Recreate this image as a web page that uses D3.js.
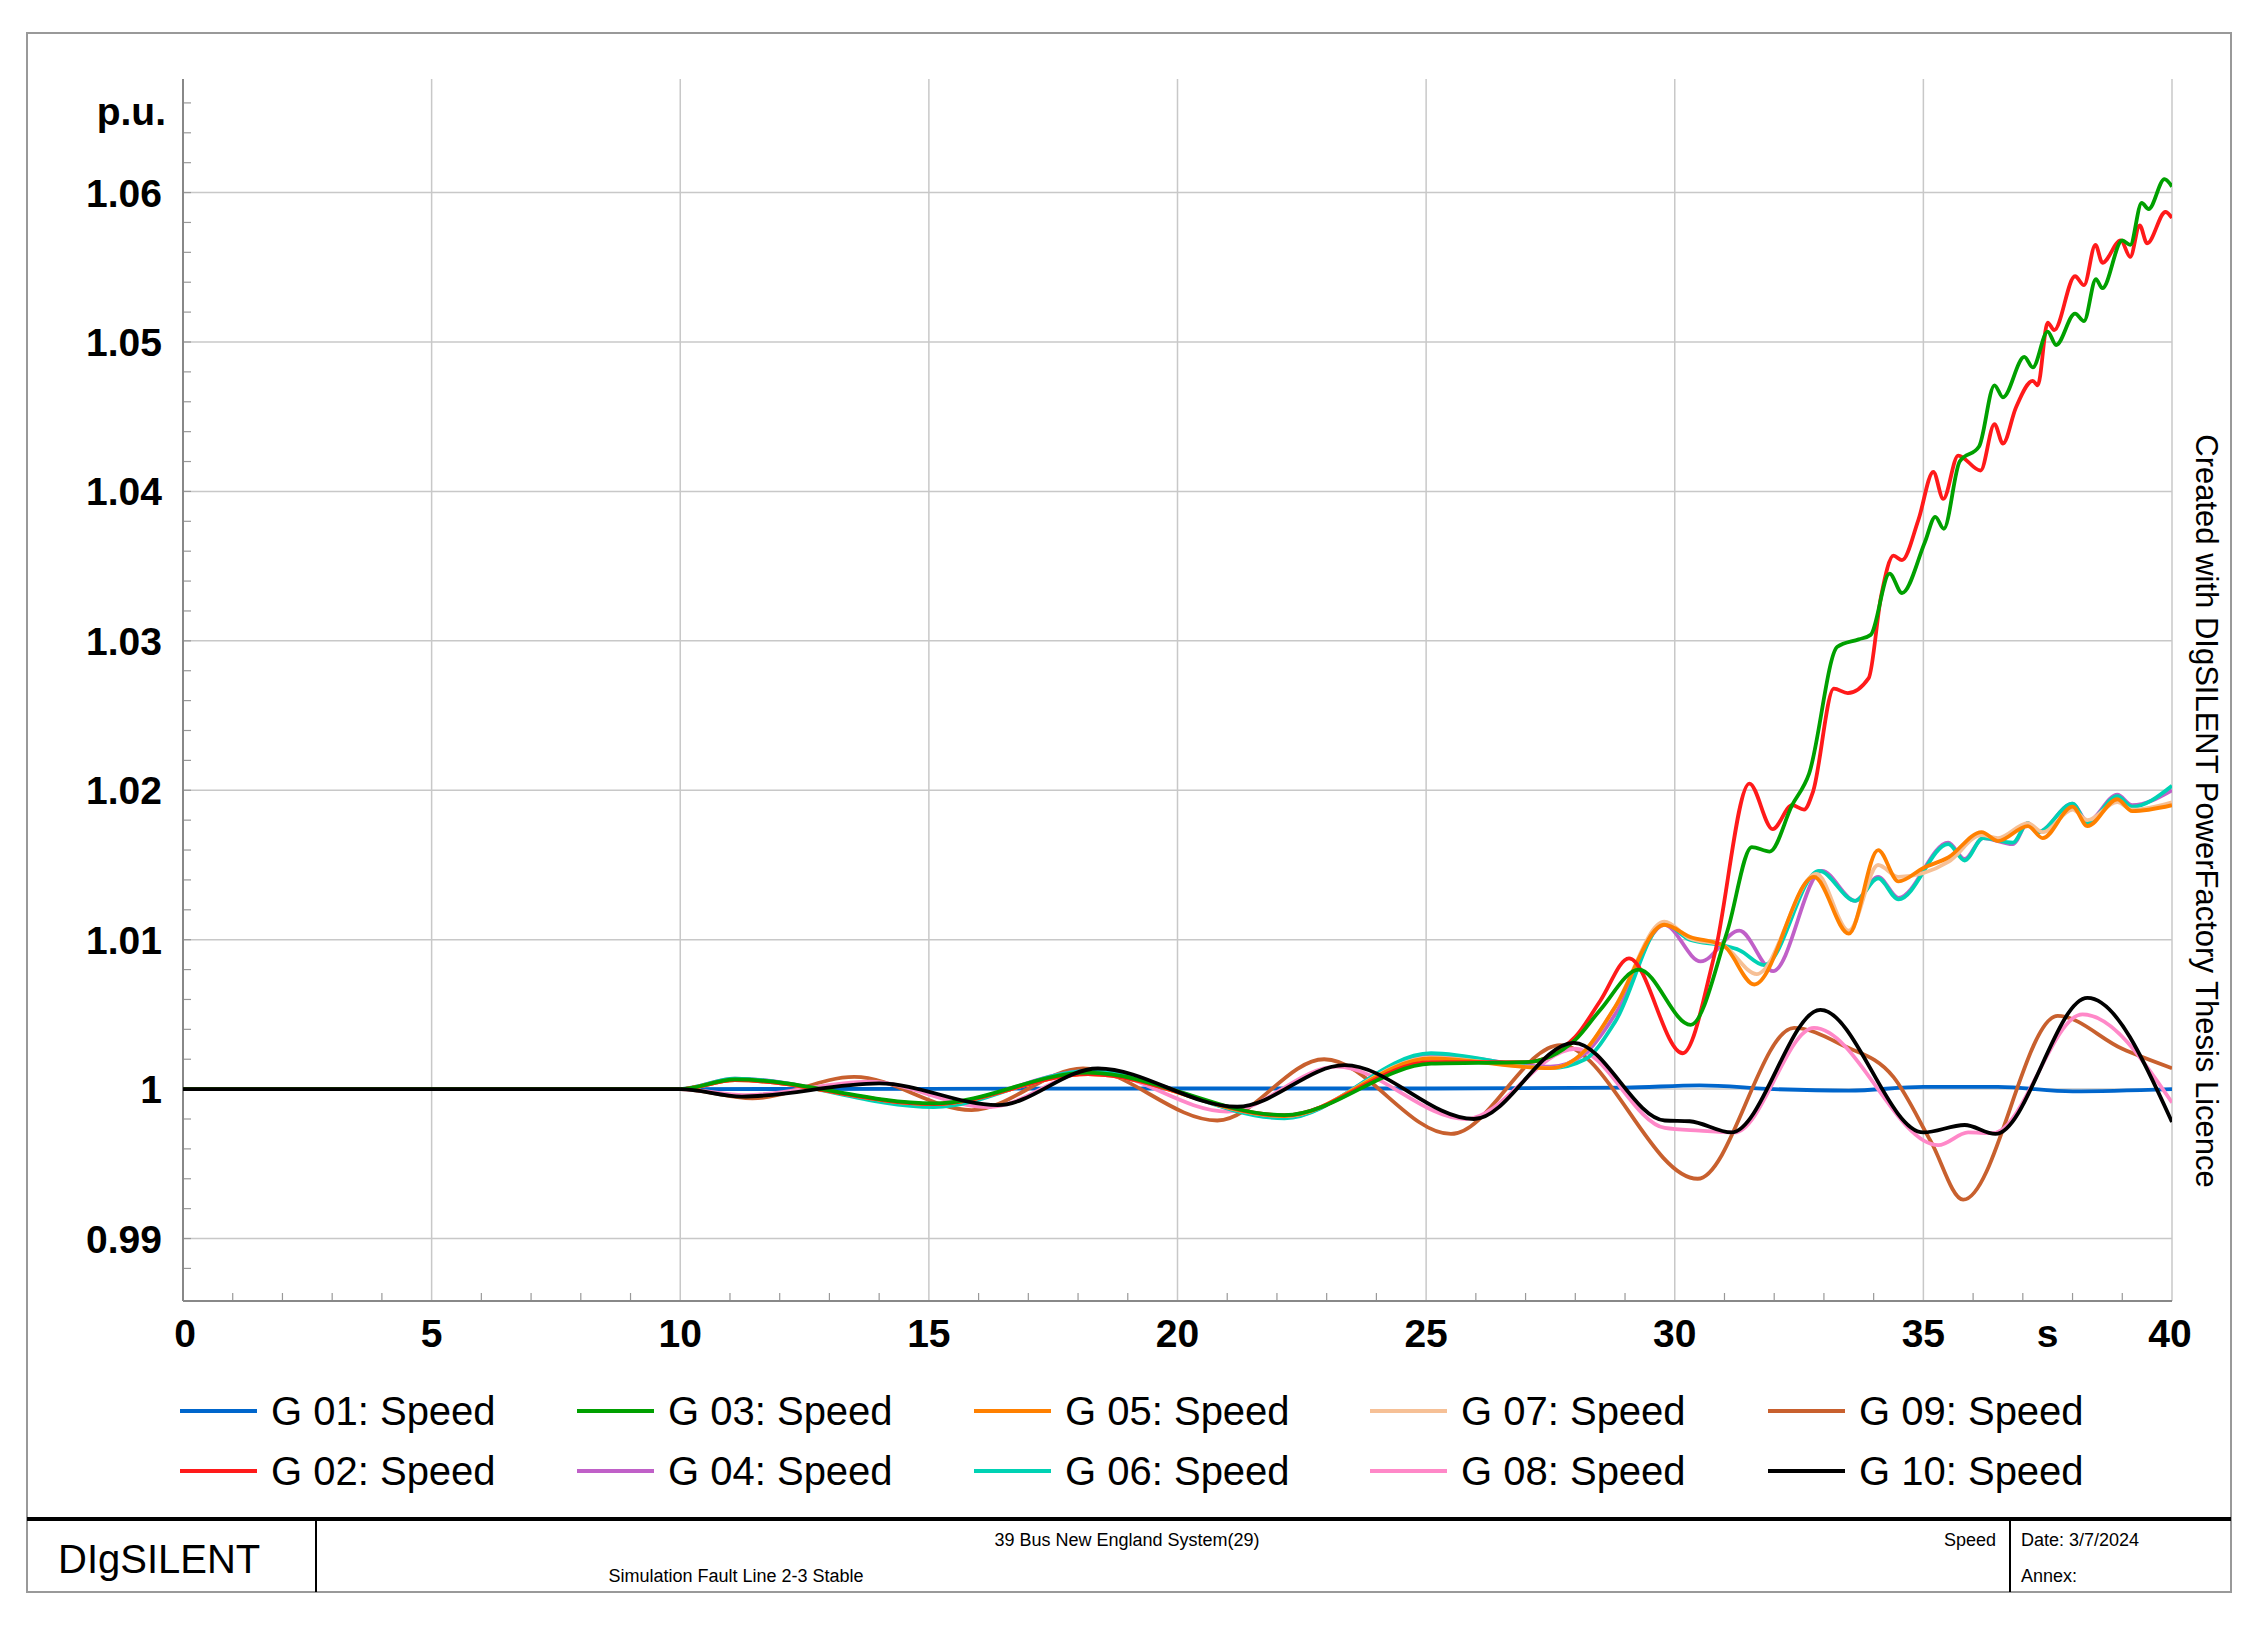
<!DOCTYPE html>
<html>
<head>
<meta charset="utf-8">
<script src="https://cdn.jsdelivr.net/npm/d3@7"></script>
<style>
  body { margin: 0; background: #fff; }
  text { font-family: "Liberation Sans", Arial, sans-serif; }
</style>
</head>
<body>
<svg id="chart" width="2260" height="1630"></svg>
<script>
// values
var xTicks = [0, 5, 10, 15, 20, 25, 30, 35, 40];
var yTicks = [0.99, 1.00, 1.01, 1.02, 1.03, 1.04, 1.05, 1.06];
var yTickLabels = ["0.99", "1", "1.01", "1.02", "1.03", "1.04", "1.05", "1.06"];

var g01_t = [0, 10, 20, 25, 29, 30.5, 32, 33.5, 35, 36.5, 38, 40];
var g01_v = [1.0000, 1.0000, 1.00004, 1.00004, 1.0001, 1.00025, 1.0000, 0.9999, 1.00015, 1.00015, 0.99985, 1.0000];

var g02_t = [0, 10, 11.1, 15.1, 18.2, 22.15, 25.1, 27, 28, 28.5, 29.08, 30.16, 30.8, 31.5, 31.97, 32.36, 32.6, 32.78, 33.2, 33.48, 33.9, 34.15, 34.4, 34.57, 34.9, 35.2, 35.4, 35.7, 36.15, 36.43, 36.6, 36.86, 37.2, 37.3, 37.5, 37.63, 38.05, 38.23, 38.46, 38.6, 38.97, 39.16, 39.35, 39.5, 39.87, 40];
var g02_v = [1.0000, 1.0000, 1.0006, 0.9990, 1.0010, 0.99825, 1.0018, 1.0018, 1.0035, 1.0059, 1.00875, 1.0024, 1.0090, 1.02045, 1.0174, 1.0190, 1.0187, 1.0199, 1.0268, 1.0265, 1.0275, 1.0330, 1.0357, 1.0354, 1.0381, 1.0413, 1.0395, 1.0424, 1.0414, 1.0445, 1.0432, 1.0456, 1.0474, 1.0471, 1.0513, 1.0508, 1.0544, 1.0538, 1.0565, 1.0553, 1.0568, 1.0557, 1.0578, 1.0566, 1.0587, 1.0583];

var g03_t = [0, 10, 11.1, 15.1, 18.2, 22.15, 25.1, 27, 28, 28.5, 29.28, 30.32, 31.06, 31.55, 31.91, 32.36, 32.7, 33.27, 33.7, 33.94, 34.32, 34.57, 35.03, 35.24, 35.41, 35.73, 36.12, 36.43, 36.6, 37.03, 37.2, 37.5, 37.67, 38.05, 38.23, 38.47, 38.6, 39.0, 39.16, 39.39, 39.53, 39.85, 40];
var g03_v = [1.0000, 1.0000, 1.00065, 0.99904, 1.0011, 0.99826, 1.0017, 1.0018, 1.0033, 1.0053, 1.0080, 1.0043, 1.0106, 1.0162, 1.0159, 1.0190, 1.0211, 1.0296, 1.0301, 1.0304, 1.0345, 1.0332, 1.0366, 1.0383, 1.0375, 1.0420, 1.0430, 1.0471, 1.0463, 1.0490, 1.0483, 1.0507, 1.0498, 1.0519, 1.0514, 1.0542, 1.0536, 1.0568, 1.0565, 1.0593, 1.0589, 1.0609, 1.0604];

var g04_t = [0, 10, 11.1, 15.1, 18.2, 22.15, 25.1, 27.5, 28.2, 28.8, 29.79, 30.52, 31.3, 31.98, 32.96, 33.63, 34.09, 34.5, 35.5, 35.83, 36.2, 36.8, 37.1, 37.3, 38.0, 38.3, 38.9, 39.2, 40];
var g04_v = [1.0000, 1.0000, 1.0007, 0.9989, 1.0012, 0.9981, 1.0023, 1.0015, 1.0024, 1.0050, 1.0110, 1.00855, 1.0106, 1.0079, 1.0146, 1.0126, 1.0142, 1.0128, 1.0165, 1.0154, 1.0168, 1.0164, 1.0178, 1.0172, 1.0191, 1.0179, 1.0197, 1.0190, 1.0200];

var g05_t = [0, 10, 11.1, 15.1, 18.2, 22.15, 25.1, 27.5, 28.2, 28.8, 29.79, 30.3, 30.98, 31.6, 32.8, 33.5, 34.09, 34.5, 35.0, 35.5, 36.17, 36.5, 37.1, 37.4, 38.0, 38.3, 38.9, 39.2, 40];
var g05_v = [1.0000, 1.0000, 1.0006, 0.9990, 1.0010, 0.9982, 1.00205, 1.0014, 1.0026, 1.0055, 1.0110, 1.0102, 1.0096, 1.0070, 1.0142, 1.0104, 1.0160, 1.0139, 1.0148, 1.0155, 1.0172, 1.0166, 1.0176, 1.0168, 1.0189, 1.0176, 1.0194, 1.0186, 1.0190];

var g06_t = [0, 10, 11.1, 15.1, 18.2, 22.15, 25.1, 27.5, 28.2, 28.8, 29.79, 30.3, 30.98, 31.3, 31.8, 32.9, 33.63, 34.09, 34.5, 35.5, 35.83, 36.2, 36.8, 37.1, 37.3, 38.0, 38.3, 38.9, 39.2, 40];
var g06_v = [1.0000, 1.0000, 1.0007, 0.9988, 1.0012, 0.99805, 1.0024, 1.0014, 1.0020, 1.0045, 1.0111, 1.0100, 1.0096, 1.0093, 1.0083, 1.0146, 1.0126, 1.0141, 1.0127, 1.0164, 1.0153, 1.0168, 1.0165, 1.0178, 1.0172, 1.0191, 1.0178, 1.0196, 1.0189, 1.0203];

var g07_t = [0, 10, 11.1, 15.1, 18.2, 22.15, 25.1, 27.5, 28.2, 28.8, 29.79, 30.3, 30.98, 31.65, 32.85, 33.5, 34.09, 34.5, 35.5, 36.17, 36.5, 37.1, 37.4, 38.0, 38.3, 38.9, 39.2, 40];
var g07_v = [1.0000, 1.0000, 1.0006, 0.9990, 1.0010, 0.9982, 1.0021, 1.0014, 1.0026, 1.0055, 1.0112, 1.0101, 1.0096, 1.0077, 1.0144, 1.0106, 1.0150, 1.0142, 1.0152, 1.0170, 1.0168, 1.0178, 1.0172, 1.0187, 1.0180, 1.0192, 1.0187, 1.0192];

var g08_t = [0, 10, 11.3, 13.8, 16.2, 18.3, 21.0, 23.2, 25.8, 28.0, 29.8, 30.5, 31.2, 32.8, 35.3, 35.9, 36.4, 38.2, 40];
var g08_v = [1.0000, 1.0000, 0.9996, 1.0005, 0.9988, 1.0012, 0.9985, 1.0015, 0.9980, 1.0027, 0.9974, 0.99722, 0.9971, 1.0041, 0.99625, 0.9971, 0.99705, 1.0050, 0.9991];

var g09_t = [0, 10, 11.45, 13.5, 15.86, 18.1, 20.8, 22.95, 25.5, 27.7, 30.46, 32.4, 33.4, 34.4, 35.15, 35.8, 37.7, 39.0, 40];
var g09_v = [1.0000, 1.0000, 0.99938, 1.00082, 0.9986, 1.00138, 0.9979, 1.0020, 0.9970, 1.00295, 0.9940, 1.0041, 1.0029, 1.0008, 0.9965, 0.9926, 1.0049, 1.0027, 1.0014];

var g10_t = [0, 10, 11.24, 14.0, 16.38, 18.4, 21.2, 23.36, 25.96, 27.97, 29.8, 30.3, 31.14, 32.93, 35.0, 35.83, 36.45, 38.3, 40];
var g10_v = [1.0000, 1.0000, 0.9995, 1.00038, 0.99893, 1.00138, 0.99882, 1.0016, 0.9980, 1.0031, 0.9979, 0.99785, 0.9971, 1.0053, 0.9971, 0.9976, 0.9970, 1.0061, 0.9978];

var names = ["G 01: Speed", "G 02: Speed", "G 03: Speed", "G 04: Speed", "G 05: Speed",
             "G 06: Speed", "G 07: Speed", "G 08: Speed", "G 09: Speed", "G 10: Speed"];
var colors = ["#0066cc", "#ff1a1a", "#00a000", "#c060c8", "#ff8000",
              "#00d2b4", "#f6c096", "#ff88c8", "#c8602e", "#000000"];
var times = [g01_t, g02_t, g03_t, g04_t, g05_t, g06_t, g07_t, g08_t, g09_t, g10_t];
var values = [g01_v, g02_v, g03_v, g04_v, g05_v, g06_v, g07_v, g08_v, g09_v, g10_v];
// draw order: back to front
var drawOrder = [0, 8, 7, 3, 5, 6, 4, 1, 2, 9];

var svg = d3.select("#chart");
var mLeft = 183, mRight = 2172, mTop = 79, mBottom = 1301;

var x = d3.scaleLinear().domain([0, 40]).range([mLeft, mRight]);
var y = d3.scaleLinear().domain([0.98582, 1.0676]).range([mBottom, mTop]);

// outer frame
svg.append("rect").attr("x", 27).attr("y", 33).attr("width", 2204).attr("height", 1559)
  .attr("fill", "none").attr("stroke", "#999").attr("stroke-width", 2);

// grid
svg.append("g").selectAll("line").data(xTicks.slice(1)).join("line")
  .attr("x1", d => x(d)).attr("x2", d => x(d)).attr("y1", mTop).attr("y2", mBottom)
  .attr("stroke", "#c8c8c8").attr("stroke-width", 1.5);
svg.append("g").selectAll("line").data(yTicks).join("line")
  .attr("x1", mLeft).attr("x2", mRight).attr("y1", d => y(d)).attr("y2", d => y(d))
  .attr("stroke", "#c8c8c8").attr("stroke-width", 1.5);

// minor ticks
var xMinor = d3.range(0, 41, 1).filter(d => d % 5 !== 0);
svg.append("g").selectAll("line").data(xMinor).join("line")
  .attr("x1", d => x(d)).attr("x2", d => x(d)).attr("y1", mBottom).attr("y2", mBottom - 8)
  .attr("stroke", "#999").attr("stroke-width", 1.2);
var yMinor = d3.range(0.988, 1.067, 0.002);
svg.append("g").selectAll("line").data(yMinor).join("line")
  .attr("x1", mLeft).attr("x2", mLeft + 8).attr("y1", d => y(d)).attr("y2", d => y(d))
  .attr("stroke", "#999").attr("stroke-width", 1.2);

// axis lines
svg.append("line").attr("x1", mLeft).attr("x2", mLeft).attr("y1", mTop).attr("y2", mBottom)
  .attr("stroke", "#888").attr("stroke-width", 2);
svg.append("line").attr("x1", mLeft).attr("x2", mRight).attr("y1", mBottom).attr("y2", mBottom)
  .attr("stroke", "#888").attr("stroke-width", 2);

// tick labels
svg.append("g").selectAll("text").data(yTicks).join("text")
  .attr("x", 162).attr("y", d => y(d)).attr("dy", "0.36em")
  .attr("text-anchor", "end").attr("font-size", 39).attr("font-weight", "bold")
  .text((d, i) => yTickLabels[i]);
svg.append("text").attr("x", 166).attr("y", 125).attr("text-anchor", "end")
  .attr("font-size", 39).attr("font-weight", "bold").text("p.u.");
svg.append("g").selectAll("text").data(xTicks).join("text")
  .attr("x", (d, i) => i === 0 ? x(d) + 2 : (i === xTicks.length - 1 ? x(d) - 2 : x(d)))
  .attr("y", 1347).attr("text-anchor", "middle")
  .attr("font-size", 39).attr("font-weight", "bold").text(d => d);
svg.append("text").attr("x", x(37.5)).attr("y", 1347).attr("text-anchor", "middle")
  .attr("font-size", 39).attr("font-weight", "bold").text("s");

// curves
var line = d3.line().x(d => x(d[0])).y(d => y(d[1])).curve(d3.curveMonotoneX);
svg.append("defs").append("clipPath").attr("id", "clip")
  .append("rect").attr("x", mLeft).attr("y", mTop).attr("width", mRight - mLeft).attr("height", mBottom - mTop);
var plot = svg.append("g").attr("clip-path", "url(#clip)");
drawOrder.forEach(function(k) {
  var pts = times[k].map((t, i) => [t, values[k][i]]);
  plot.append("path").datum(pts).attr("d", line)
    .attr("fill", "none").attr("stroke", colors[k]).attr("stroke-width", 3.8)
    .attr("stroke-linejoin", "round");
});

// legend
var colX = [180, 577, 974, 1370, 1768];
names.forEach(function(n, i) {
  var c = Math.floor(i / 2), r = i % 2;
  var ly = r === 0 ? 1411 : 1471;
  svg.append("line").attr("x1", colX[c]).attr("x2", colX[c] + 77).attr("y1", ly).attr("y2", ly)
    .attr("stroke", colors[i]).attr("stroke-width", 4);
  svg.append("text").attr("x", colX[c] + 91).attr("y", ly).attr("dy", "0.36em")
    .attr("font-size", 40).text(n);
});

// vertical licence text
svg.append("text").attr("transform", "translate(2196,811) rotate(90)")
  .attr("text-anchor", "middle").attr("font-size", 31)
  .text("Created with DIgSILENT PowerFactory Thesis Licence");

// footer
svg.append("line").attr("x1", 27).attr("x2", 2231).attr("y1", 1519).attr("y2", 1519)
  .attr("stroke", "#000").attr("stroke-width", 4);
[316, 2010].forEach(function(vx) {
  svg.append("line").attr("x1", vx).attr("x2", vx).attr("y1", 1519).attr("y2", 1592)
    .attr("stroke", "#000").attr("stroke-width", 2);
});
svg.append("text").attr("x", 58).attr("y", 1573).attr("font-size", 40).text("DIgSILENT");
svg.append("text").attr("x", 1127).attr("y", 1546).attr("text-anchor", "middle")
  .attr("font-size", 18).text("39 Bus New England System(29)");
svg.append("text").attr("x", 736).attr("y", 1582).attr("text-anchor", "middle")
  .attr("font-size", 18).text("Simulation Fault Line 2-3 Stable");
svg.append("text").attr("x", 1996).attr("y", 1546).attr("text-anchor", "end")
  .attr("font-size", 18).text("Speed");
svg.append("text").attr("x", 2021).attr("y", 1546).attr("font-size", 18).text("Date: 3/7/2024");
svg.append("text").attr("x", 2021).attr("y", 1582).attr("font-size", 18).text("Annex:");
</script>
</body>
</html>
